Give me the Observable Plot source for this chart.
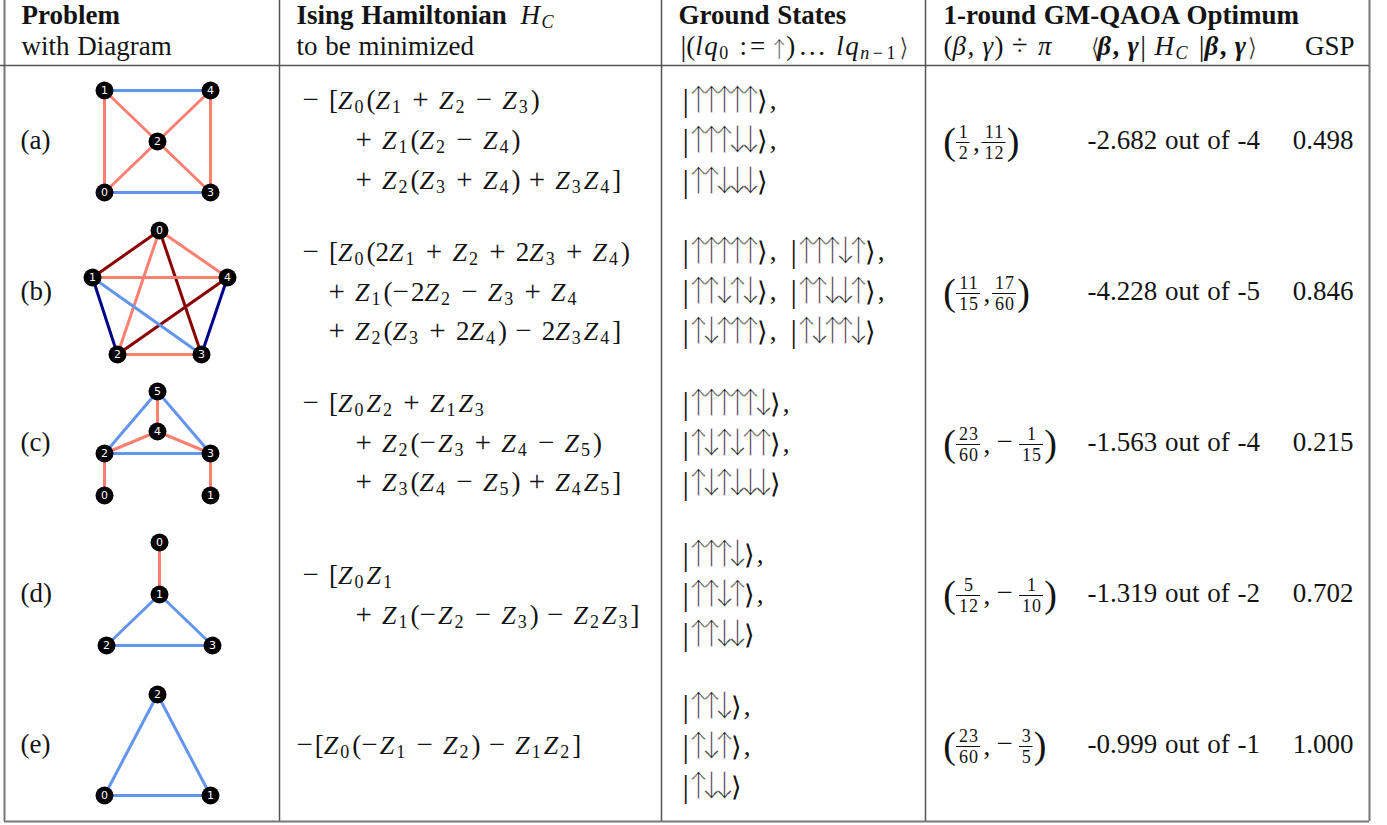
<!DOCTYPE html>
<html><head><meta charset="utf-8">
<script src="https://cdn.jsdelivr.net/npm/d3@7"></script>
<script src="https://cdn.jsdelivr.net/npm/@observablehq/plot@0.6"></script>
<style>
html,body{margin:0;padding:0;background:#fff}
svg{display:block}
svg text{opacity:.99}
.math text,.plain text{white-space:pre}
.plain text{word-spacing:1px}
.frac text{letter-spacing:1px}
</style></head><body><div id="chart"></div>
<script>
// ---------- table content ----------
const rowLabels = ["(a)","(b)","(c)","(d)","(e)"];
const hamiltonians = [
  ["− [Z_0(Z_1 + Z_2 − Z_3)","+ Z_1(Z_2 − Z_4)","+ Z_2(Z_3 + Z_4) + Z_3Z_4]"],
  ["− [Z_0(2Z_1 + Z_2 + 2Z_3 + Z_4)","+ Z_1(−2Z_2 − Z_3 + Z_4","+ Z_2(Z_3 + 2Z_4) − 2Z_3Z_4]"],
  ["− [Z_0Z_2 + Z_1Z_3","+ Z_2(−Z_3 + Z_4 − Z_5)","+ Z_3(Z_4 − Z_5) + Z_4Z_5]"],
  ["− [Z_0Z_1","+ Z_1(−Z_2 − Z_3) − Z_2Z_3]"],
  ["−[Z_0(−Z_1 − Z_2) − Z_1Z_2]"]
];
const groundStates = [
  [["↑↑↑↑↑"],["↑↑↑↓↓"],["↑↑↓↓↓"]],
  [["↑↑↑↑↑","↑↑↑↓↑"],["↑↑↓↑↓","↑↑↓↓↑"],["↑↓↑↑↑","↑↓↑↑↓"]],
  [["↑↑↑↑↑↓"],["↑↓↑↓↑↑"],["↑↓↑↓↓↓"]],
  [["↑↑↑↓"],["↑↑↓↑"],["↑↑↓↓"]],
  [["↑↑↓"],["↑↓↑"],["↑↓↓"]]
];
const betas  = ["1/2","11/15","23/60","5/12","23/60"];
const gammas = ["11/12","17/60","-1/15","-1/10","-3/5"];
const energies = ["-2.682 out of -4","-4.228 out of -5","-1.563 out of -4","-1.319 out of -2","-0.999 out of -1"];
const gsp = ["0.498","0.846","0.215","0.702","1.000"];

// ---------- problem graphs: node [id, x, y], edge [from, to, weight class] ----------
const nodesA = [[0,104,192],[1,104,90],[2,157,141],[3,210,192],[4,210,90]];
const edgesA = [[1,4,"blue"],[0,3,"blue"],[0,1,"salmon"],[1,2,"salmon"],[2,4,"salmon"],[3,4,"salmon"],[0,2,"salmon"],[2,3,"salmon"]];
const nodesB = [[0,159,230],[1,92,277],[2,117,354],[3,201,354],[4,227,277]];
const edgesB = [[0,1,"darkred"],[0,3,"darkred"],[2,4,"darkred"],[0,2,"salmon"],[0,4,"salmon"],[1,4,"salmon"],[2,3,"salmon"],[1,2,"navy"],[3,4,"navy"],[1,3,"blue"]];
const nodesC = [[0,104,495],[1,210,495],[2,104,453],[3,210,453],[4,157,431],[5,157,391]];
const edgesC = [[2,5,"blue"],[3,5,"blue"],[2,3,"blue"],[4,5,"salmon"],[2,4,"salmon"],[3,4,"salmon"],[0,2,"salmon"],[1,3,"salmon"]];
const nodesD = [[0,159,542],[1,159,594],[2,106,645],[3,212,645]];
const edgesD = [[0,1,"salmon"],[1,2,"blue"],[1,3,"blue"],[2,3,"blue"]];
const nodesE = [[0,104,795],[1,210,795],[2,157,694]];
const edgesE = [[0,1,"blue"],[0,2,"blue"],[1,2,"blue"]];
const graphs = [[nodesA,edgesA],[nodesB,edgesB],[nodesC,edgesC],[nodesD,edgesD],[nodesE,edgesE]];
const edgeColors = {salmon:"#fa8072",blue:"#6495ed",darkred:"#8b0000",navy:"#00008b"};

// ---------- layout ----------
const rowY = [140,291,442,593,744];
const serif = "'Liberation Serif','Times New Roman',serif";
const cjk = "'Noto Sans CJK SC'";
const dejavu = "'DejaVu Sans'";
const gridColor = "#555";
const columnX = [4,279,661,925,1369];
const headerY = 65, bottomY = 821;
const hamIndent = [355,328,355,355,296];
const hamFirst = [302,302,302,302,296];
const hamY = [[100,140,180],[252,292,331],[403,443,482],[575,615],[745]];
const ketY = [[100,140,181],[251,291,331],[403,443,483],[554,594,634],[706,746,786]];

// rows of text marks
const plain = [], bold = [], math = [], rightText = [];
bold.push({x:21,y:15,t:"Problem"},{x:296,y:15,t:"Ising Hamiltonian"},{x:678,y:15,t:"Ground States"},{x:943,y:15,t:"1-round GM-QAOA Optimum"});
plain.push({x:21,y:46,t:"with Diagram"},{x:296,y:46,t:"to be minimized"});
rightText.push({x:1354,y:46,t:"GSP"});
math.push({x:520,y:15,t:"H_C"},{x:680,y:46,t:"^|(lq_0 :=↑)…lq_{n−1}^⟩"},{x:943,y:46,t:"(β, γ) ÷ π"},{x:1090,y:46,t:"^⟨~β, γ~^| H_C ^|~β, γ~^⟩"});
rowLabels.forEach((t,i)=>plain.push({x:20,y:rowY[i],t}));
hamiltonians.forEach((ls,i)=>ls.forEach((t,j)=>math.push({x:j?hamIndent[i]:hamFirst[i],y:hamY[i][j],t})));
groundStates.forEach((rows,i)=>rows.forEach((cols,j)=>{
  const last = j===rows.length-1;
  cols.forEach((k,c)=>{
    const comma = !(last && c===cols.length-1);
    math.push({x:c?790:682,y:ketY[i][j],t:"^|"+k+"^⟩"+(comma?" ,":"")});
  });
}));
energies.forEach((t,i)=>plain.push({x:1087,y:rowY[i],t}));
gsp.forEach((t,i)=>rightText.push({x:1353,y:rowY[i],t}));

// fractions laid out left to right from their digits
const fracs=[],fracBar=[],bigParen=[];
function frac(s,x,y){
  const neg=s.startsWith("-"); const [n,d]=s.replace("-","").split("/");
  if(neg){ math.push({x:x+8,y:y-2,t:"−"}); x+=31; }
  const w=Math.max(n.length,d.length)*10.5+3;
  fracs.push({x:x+w/2+0.5,y:y-0.5,t:n+"\n"+d});
  fracBar.push({x1:x,x2:x+w,y:y});
  return x+w;
}
betas.forEach((b,i)=>{
  const y=rowY[i]+2;
  bigParen.push({x:949,y:y-1,t:"("});
  let x=frac(b,956,y);
  math.push({x:x+3,y:y,t:","}); x+=12;
  if(gammas[i][0]==="-") x-=4;
  x=frac(gammas[i],x,y);
  bigParen.push({x:x+7,y:y-1,t:")"});
});

const links = graphs.flatMap(([ns,es])=>es.map(([a,b,c])=>{
  const p=ns.find(n=>n[0]===a), q=ns.find(n=>n[0]===b);
  return {x1:p[1],y1:p[2],x2:q[1],y2:q[2],color:edgeColors[c]};
}));
const nodes = graphs.flatMap(([ns])=>ns.map(([id,x,y])=>({id:String(id),x,y})));

const txt=(data,o)=>Plot.text(data,{x:"x",y:"y",text:"t",fontFamily:serif,fill:"#111",textAnchor:"start",...o});

const chart = Plot.plot({
  width:1387,height:825,margin:0,
  x:{domain:[0,1387],range:[0,1387],axis:null},
  y:{domain:[0,825],range:[0,825],axis:null},
  marks:[
    Plot.ruleX(columnX.slice(1,4),{y1:0,y2:bottomY,stroke:gridColor,strokeWidth:1.5}),
    Plot.ruleX([columnX[0],columnX[4]],{y1:0,y2:bottomY,stroke:"#777",strokeWidth:2}),
    Plot.ruleY([headerY],{x1:0,x2:columnX[4],stroke:gridColor,strokeWidth:1.5}),
    Plot.ruleY([bottomY],{x1:columnX[0],x2:columnX[4],stroke:"#777",strokeWidth:2}),
    Plot.link(links,{x1:"x1",y1:"y1",x2:"x2",y2:"y2",stroke:"color",strokeWidth:3}),
    Plot.dot(nodes,{x:"x",y:"y",r:9,fill:"black"}),
    Plot.text(nodes,{x:"x",y:"y",text:"id",fill:"white",fontSize:11,fontFamily:"'DejaVu Sans',sans-serif"}),
    txt(plain,{fontSize:27,className:"plain"}),
    txt(bold,{fontSize:27,fontWeight:"bold",className:"plain"}),
    txt(rightText,{fontSize:27,textAnchor:"end",className:"plain"}),
    txt(math,{fontSize:27,className:"math"}),
    txt(fracs,{fontSize:18,textAnchor:"middle",lineHeight:1.17,className:"frac"}),
    Plot.ruleY(fracBar,{x1:"x1",x2:"x2",y:"y",stroke:"#111",strokeWidth:1}),
    txt(bigParen,{fontSize:38,textAnchor:"middle"})
  ]
});
document.getElementById("chart").append(chart);

// typeset the math markup of each line into styled runs
const NS="http://www.w3.org/2000/svg";
function typeset(el){
  const s=el.textContent; el.textContent="";
  const head=s.includes("lq")||s.includes("~");
  let b=false, shift=0, prevArrow=false;
  const add=(t,a)=>{
    const sp=document.createElementNS(NS,"tspan");
    sp.textContent=t;
    const want=a.shift||0;
    if(want!==shift){sp.setAttribute("dy",want-shift);shift=want;}
    for(const k of ["font-size","font-style","font-weight","font-family","letter-spacing","dx","stroke","stroke-width"]) if(a[k]!=null) sp.setAttribute(k,a[k]);
    if(b) sp.setAttribute("font-weight","bold");
    el.append(sp);
  };
  const isLetter=c=>/[A-Za-zβγπ]/.test(c);
  for(let i=0;i<s.length;i++){
    const c=s[i];
    if(c==="~"){b=!b;continue;}
    const arrow=c==="↑"||c==="↓";
    if(c==="^"){
      i++;
      if(s[i]==="|") add("|",{"font-size":head?29:32,shift:head?1:2});
      else if(head) add(s[i],{"font-size":25,"font-family":dejavu,shift:1,"letter-spacing":-3,stroke:"#fff","stroke-width":0.6});
      else add(s[i],{"font-size":27,"font-family":cjk,"font-weight":200,shift:1,"letter-spacing":-6,dx:prevArrow?8:null});
      prevArrow=false;
      continue;
    }
    if(arrow){
      if(head){
        add(c,{"font-size":22,"font-family":cjk,"font-weight":200,shift:2,"letter-spacing":-4,stroke:"#fff","stroke-width":0.3});
        continue;
      }
      // tuck the first arrow toward the delimiter before it
      if(!prevArrow && el.lastElementChild) el.lastElementChild.setAttribute("letter-spacing",-5.3);
      add(c,{"font-size":30,"font-family":cjk,"font-weight":200,shift:1,"letter-spacing":-17,stroke:"#fff","stroke-width":0.5});
      prevArrow=true;
      continue;
    }
    const dx=prevArrow?10:null; prevArrow=false;
    if(c==="_"){
      let sub;
      if(s[i+1]==="{"){const e=s.indexOf("}",i);sub=s.slice(i+2,e);i=e;}else{sub=s[i+1];i++;}
      const ls=sub.length>1?3.5:3;
      for(const ch of sub) add(ch,{"font-size":18,shift:4,"font-style":isLetter(ch)?"italic":null,"letter-spacing":ls});
      continue;
    }
    if(c==="Z"){add(c,{"font-size":26,"font-style":"italic","letter-spacing":2});continue;}
    if(isLetter(c)){add(c,{"font-style":"italic","letter-spacing":1.5});continue;}
    if(c==="+"||c==="−"||c==="÷"){add(c,{"font-size":29,"letter-spacing":2});continue;}
    if(c===" "){add(c,{"letter-spacing":1.5});continue;}
    if(c==="…"){add(c,{"font-size":28,"letter-spacing":10,dx:3});continue;}
    if(c===":"||c==="="){add(c,{"letter-spacing":3});continue;}
    add(c,{dx});
  }
}
chart.querySelectorAll(".math text").forEach(typeset);
</script></body></html>
